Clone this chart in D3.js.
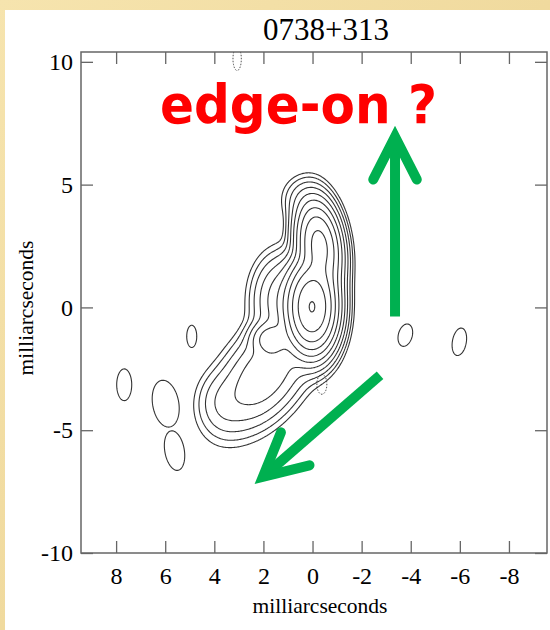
<!DOCTYPE html>
<html>
<head>
<meta charset="utf-8">
<script src="https://cdn.jsdelivr.net/npm/d3@7"></script>
<style>
   html, body { margin: 0; padding: 0; background: #f2dca0; }
   svg { display: block; }
</style>
</head>
<body>
<svg id="chart" width="550" height="630"></svg>
<script>
const sourceName = '0738+313';
const axisTitle = 'milliarcseconds';
const xTicks = [ 8, 6, 4, 2, 0, -2, -4, -6, -8 ];
const yTicks = [ 10, 5, 0, -5, -10 ];
const xDomain = [ 9.43, -9.55 ];
const yDomain = [ -10, 10.4 ];

// contour levels, doubling from the lowest one
const levels = [ 1, 2, 4, 8, 16, 32, 64, 128, 256, 512, 1024 ];

// gaussian components: [ x (mas), y (mas), peak, sigma x, sigma y, rotation (deg) ]
const jetComponents = [
   [ 0, 0, 1050, 0.46, 0.84, 0 ],
   [ -0.3, 2.5, 330, 0.41, 0.85, -8 ],
   [ 0.45, 4.4, 4, 0.45, 0.5, 0 ],
   [ 1.2, 0.3, 25, 0.6, 0.9, 0 ],
   [ 1.7, -1.3, 40, 0.4, 0.35, 0 ],
   [ 1.95, -2.75, 28, 0.75, 1.3, 37 ],
   [ 3.7, -3.9, 5, 0.55, 0.7, 0 ]
];
// isolated islands just above the lowest level
const islandComponents = [
   [ 4.9, -1.2, 1.9, 0.18, 0.4, 0 ],
   [ 7.65, -3.17, 1.9, 0.27, 0.57, 0 ],
   [ 5.96, -3.94, 1.9, 0.47, 0.85, -10 ],
   [ 5.6, -5.85, 1.9, 0.35, 0.72, -10 ],
   [ -3.8, -1.15, 1.9, 0.25, 0.41, 15 ],
   [ -6.0, -1.42, 1.9, 0.25, 0.5, 10 ]
];
// negative (dashed) islands
const negativeComponents = [
   [ -0.4, -3.15, 1.9, 0.18, 0.36, 0 ],
   [ 3.05, 10.1, 1.9, 0.15, 0.42, 0 ]
];

// annotation: label and two arrows, in map units
const label = { text: 'edge-on ?', x: 6.21, y: 7.52 };
const arrows = [
   { from: [ -3.36, -0.37 ], to: [ -3.36, 6.95 ] },
   { from: [ -2.75, -2.76 ], to: [ 2.02, -6.9 ] }
];

///////////////////////////////////////////////////////////////////////////////////////////////////

const svg = d3.select( '#chart' );
const frame = { left: 81, right: 547, top: 52, bottom: 553 };

const x = d3.scaleLinear().domain( xDomain ).range( [ frame.left, frame.right ] );
const y = d3.scaleLinear().domain( yDomain ).range( [ frame.bottom, frame.top ] );

// beige slide background behind a white panel
const paper = svg.append( 'defs' ).append( 'linearGradient' )
   .attr( 'id', 'paper' ).attr( 'x1', 0 ).attr( 'y1', 0 ).attr( 'x2', 1 ).attr( 'y2', 1 );
paper.append( 'stop' ).attr( 'offset', 0 ).attr( 'stop-color', '#f6e4ae' );
paper.append( 'stop' ).attr( 'offset', 1 ).attr( 'stop-color', '#ead08e' );
svg.append( 'rect' )
   .attr( 'width', 550 ).attr( 'height', 630 )
   .attr( 'fill', 'url(#paper)' );
svg.append( 'rect' )
   .attr( 'x', 5 ).attr( 'y', 10 )
   .attr( 'width', 545 ).attr( 'height', 620 )
   .attr( 'fill', '#fff' );

svg.append( 'clipPath' ).attr( 'id', 'plot-clip' )
   .append( 'rect' )
   .attr( 'x', frame.left ).attr( 'y', frame.top )
   .attr( 'width', frame.right - frame.left ).attr( 'height', frame.bottom - frame.top );

// sample the components on a regular grid
const step = 0.04;
const xLo = -9.6, yLo = -10.1;
const nx = Math.ceil( 19.1 / step ) + 1;
const ny = Math.ceil( 20.6 / step ) + 1;

function gaussian( [ cx, cy, peak, sx, sy, rot ], px, py ) {
   const a = rot * Math.PI / 180;
   const dx = px - cx, dy = py - cy;
   const u = dx * Math.cos( a ) + dy * Math.sin( a );
   const v = -dx * Math.sin( a ) + dy * Math.cos( a );
   return peak * Math.exp( -( u * u / ( 2 * sx * sx ) + v * v / ( 2 * sy * sy ) ) );
}

function sampleField( components, combine ) {
   const values = new Float64Array( nx * ny );
   for( let j = 0; j < ny; ++j ) {
      const py = yLo + j * step;
      for( let i = 0; i < nx; ++i ) {
         const px = xLo + i * step;
         values[ j * nx + i ] = combine( components.map( c => gaussian( c, px, py ) ) );
      }
   }
   return values;
}

const jetField = sampleField( jetComponents, d3.sum );
const islandField = sampleField( islandComponents, d3.max );
const negativeField = sampleField( negativeComponents, d3.max );

const gridToScreen = d3.geoTransform( {
   point( i, j ) {
      this.stream.point( x( xLo + i * step ), y( yLo + j * step ) );
   }
} );
const path = d3.geoPath( gridToScreen );
const contours = d3.contours().size( [ nx, ny ] );

const maps = svg.append( 'g' ).attr( 'clip-path', 'url(#plot-clip)' )
   .attr( 'fill', 'none' ).attr( 'stroke', '#333' ).attr( 'stroke-width', 1.1 );

maps.selectAll( 'path.jet' )
   .data( contours.thresholds( levels )( jetField ) )
   .join( 'path' ).attr( 'class', 'jet' )
   .attr( 'd', path );
maps.selectAll( 'path.island' )
   .data( contours.thresholds( [ 1 ] )( islandField ) )
   .join( 'path' ).attr( 'class', 'island' )
   .attr( 'd', path );
maps.selectAll( 'path.negative' )
   .data( contours.thresholds( [ 1 ] )( negativeField ) )
   .join( 'path' ).attr( 'class', 'negative' )
   .attr( 'stroke-width', 0.9 )
   .attr( 'stroke-dasharray', '1.5,1.5' )
   .attr( 'd', path );

// frame and inward ticks
const serif = '"Liberation Serif", "Times New Roman", serif';
const tickFont = g => g.selectAll( 'text' )
   .attr( 'font-family', serif )
   .attr( 'font-size', 24 ).attr( 'fill', '#000' );
const tickStyle = g => {
   g.select( '.domain' ).remove();
   g.selectAll( 'line' ).attr( 'stroke', '#666' ).attr( 'stroke-width', 1.3 );
};
const plain = d => String( d );

svg.append( 'g' ).attr( 'transform', `translate(0,${frame.bottom})` )
   .call( d3.axisBottom( x ).tickValues( xTicks ).tickFormat( plain ).tickSize( -12 ).tickPadding( 14 ) )
   .call( tickStyle ).call( tickFont );
svg.append( 'g' ).attr( 'transform', `translate(0,${frame.top})` )
   .call( d3.axisTop( x ).tickValues( xTicks ).tickSize( -12 ).tickFormat( '' ) )
   .call( tickStyle );
svg.append( 'g' ).attr( 'transform', `translate(${frame.left},0)` )
   .call( d3.axisLeft( y ).tickValues( yTicks ).tickFormat( plain ).tickSize( -12 ).tickPadding( 8 ) )
   .call( tickStyle ).call( tickFont );
svg.append( 'g' ).attr( 'transform', `translate(${frame.right},0)` )
   .call( d3.axisRight( y ).tickValues( yTicks ).tickSize( -12 ).tickFormat( '' ) )
   .call( tickStyle );

svg.append( 'rect' )
   .attr( 'x', frame.left ).attr( 'y', frame.top )
   .attr( 'width', frame.right - frame.left ).attr( 'height', frame.bottom - frame.top )
   .attr( 'fill', 'none' ).attr( 'stroke', '#666' ).attr( 'stroke-width', 1.5 );

// titles
svg.append( 'text' )
   .attr( 'x', 326 ).attr( 'y', 40 )
   .attr( 'text-anchor', 'middle' )
   .attr( 'font-family', serif ).attr( 'font-size', 31 )
   .text( sourceName );
svg.append( 'text' )
   .attr( 'x', 320 ).attr( 'y', 613 )
   .attr( 'text-anchor', 'middle' )
   .attr( 'font-family', serif ).attr( 'font-size', 21.5 )
   .text( axisTitle );
svg.append( 'text' )
   .attr( 'transform', 'translate(33,308) rotate(-90)' )
   .attr( 'text-anchor', 'middle' )
   .attr( 'font-family', serif ).attr( 'font-size', 21.5 )
   .text( axisTitle );

// annotation
svg.append( 'text' )
   .attr( 'x', x( label.x ) ).attr( 'y', y( label.y ) )
   .attr( 'font-family', '"DejaVu Sans", Verdana, sans-serif' )
   .attr( 'font-weight', 'bold' ).attr( 'font-size', 54 )
   .attr( 'textLength', 277 ).attr( 'lengthAdjust', 'spacingAndGlyphs' )
   .attr( 'fill', '#ff0000' )
   .text( label.text );

const green = '#00b050';
const arrowLayer = svg.append( 'g' )
   .attr( 'stroke', green ).attr( 'stroke-width', 10 ).attr( 'fill', 'none' );
arrows.forEach( ( { from, to } ) => {
   const [ x0, y0 ] = [ x( from[ 0 ] ), y( from[ 1 ] ) ];
   const [ x1, y1 ] = [ x( to[ 0 ] ), y( to[ 1 ] ) ];
   const angle = Math.atan2( y0 - y1, x0 - x1 );
   const wing = 48, spread = 27 * Math.PI / 180;
   const wingAt = s => [ x1 + wing * Math.cos( angle + s ), y1 + wing * Math.sin( angle + s ) ];
   arrowLayer.append( 'line' )
      .attr( 'x1', x0 ).attr( 'y1', y0 )
      .attr( 'x2', x1 + 8 * Math.cos( angle ) ).attr( 'y2', y1 + 8 * Math.sin( angle ) );
   arrowLayer.append( 'path' )
      .attr( 'stroke-linecap', 'round' ).attr( 'stroke-linejoin', 'miter' )
      .attr( 'd', d3.line()( [ wingAt( spread ), [ x1, y1 ], wingAt( -spread ) ] ) );
} );
</script>
</body>
</html>
